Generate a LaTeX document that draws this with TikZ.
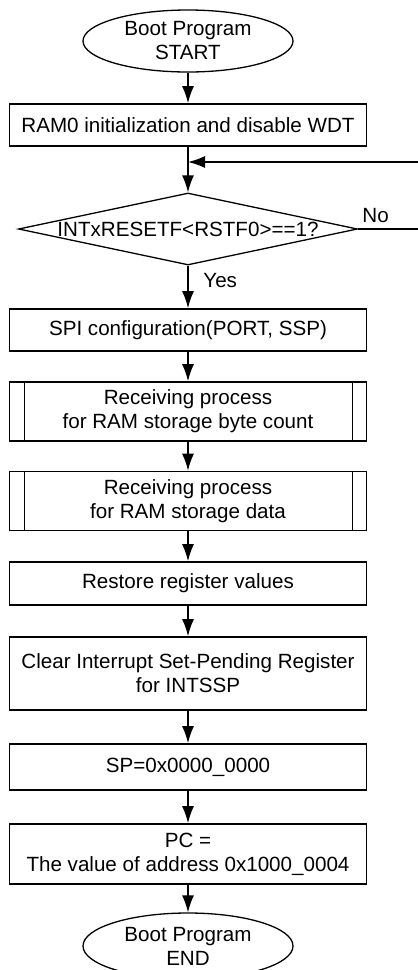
\documentclass[tikz,border=0pt]{standalone}
\usepackage{fontspec}
\setmainfont{Liberation Sans}
\usepackage{tikz}
\usetikzlibrary{%
	arrows.meta,% wg. Latex[length=...]
	shapes.geometric,% wg. ellipse, diamond
	positioning,
	calc
}
\tikzstyle{terminal} = [ellipse, draw, line width = 0.65pt, minimum width = 105pt, minimum height = 31pt, inner sep = 0pt, align = center]
\tikzstyle{block} = [rectangle, draw, line width = 0.85pt, minimum width = 178.5pt, inner sep = 0pt, align = center]
\tikzstyle{process} = [block, path picture = {
		\draw[line width = 0.85pt] ([xshift = 7.5pt]path picture bounding box.north west) -- ([xshift = 7.5pt]path picture bounding box.south west);
		\draw[line width = 0.85pt] ([xshift = -7pt]path picture bounding box.north east) -- ([xshift = -7pt]path picture bounding box.south east);
	}]
\tikzstyle{decision} = [diamond, draw, line width = 0.65pt, minimum width = 169.5pt, minimum height = 36pt, inner sep = 0pt]
\tikzstyle{line} = [draw, -{Latex[length = 8.5pt, width = 6pt]}, line width = 0.7pt]
\tikzstyle{answer} = [inner sep = 0pt, anchor = base west]

\begin{document}
\begin{tikzpicture}[x = 0.5pt, y = -0.5pt, font = \fontsize{10.3}{12}\selectfont]
		
		\useasboundingbox (0,0) rectangle (418,970);
		
		% First we draw the terminals
		\node[terminal] (start) at (188,41) {Boot Program\\START};
		\node[terminal, minimum height = 33pt] (end) at (188,946) {Boot Program\\END};
		
		% Then the plain blocks
		\foreach \ypos/\name/\hgt/\txt in {125/ram/21pt/{RAM0 initialization and disable WDT},
			330/spi/21pt/{SPI configuration(PORT, SSP)},
			583.5/restore/21.5pt/{Restore register values},
			673.5/clear/36.5pt/{Clear Interrupt Set-Pending Register\\for INTSSP},
			767/sp/23pt/{SP=0x0000\_0000},
			854/pc/30pt/{PC =\\The value of address 0x1000\_0004}}
		\node[block, minimum height = \hgt] (\name) at (188,\ypos) {\txt};
		
		% Predefined processes
		\foreach \ypos/\name/\txt in {411.5/recv1/{Receiving process\\for RAM storage byte count},
			501/recv2/{Receiving process\\for RAM storage data}}
		\node[process, minimum height = 29.5pt] (\name) at (188,\ypos) {\txt};
		
		% Decision
		\node[decision] (dec) at (188,229) {\makebox[0pt]{INTxRESETF<RSTF0>==1?}};
		
		% Connect the nodes
		\foreach \source/ \dest in {start/ram, ram/dec, dec/spi, spi/recv1, recv1/recv2,
			recv2/restore, restore/clear, clear/sp, sp/pc, pc/end}
		\path[line] (\source) -- (\dest);
		
		% Loop back for No
		\coordinate (nocorner) at (426,229);
		\coordinate (loopc) at (426,162);
		\coordinate (merge) at (188,162);
		\draw[line width = 0.7pt] (dec.east) -- (nocorner) -- (loopc);
		\path[line] (loopc) -- (merge);
		
		% Answers
		\node[answer] (no) at (362,222) {No};
		\node[answer] (yes) at (203,287) {Yes};
		
\end{tikzpicture}
\end{document}
